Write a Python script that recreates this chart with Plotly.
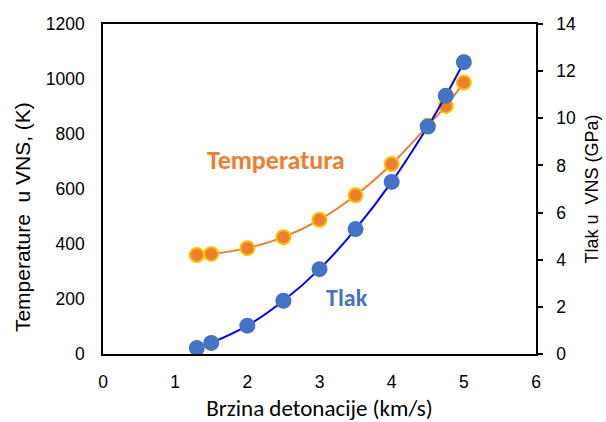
import plotly.graph_objects as go

# Detonation velocity (km/s)
velocity = [1.3, 1.5, 2.0, 2.5, 3.0, 3.5, 4.0, 4.5, 4.75, 5.0]
# Temperature in VNS (K)
temperature = [360, 364, 385, 425, 488, 577, 691, 830, 902, 987]
# Pressure in VNS (GPa)
pressure = [0.25, 0.47, 1.2, 2.26, 3.6, 5.3, 7.3, 9.65, 10.96, 12.38]

ARIAL = "Liberation Sans, Arial, sans-serif"
CALIBRI = "Carlito, Lato, Open Sans, sans-serif"

fig = go.Figure()

fig.add_trace(go.Scatter(
    x=velocity, y=temperature,
    mode="lines+markers",
    name="Temperatura",
    line=dict(color="#ED7D31", width=2, shape="spline"),
    marker=dict(size=14, color="#ED7D31", line=dict(color="#FFC000", width=2)),
    yaxis="y",
))

fig.add_trace(go.Scatter(
    x=velocity, y=pressure,
    mode="lines+markers",
    name="Tlak",
    line=dict(color="#0000FF", width=2, shape="spline"),
    marker=dict(size=16, color="#4472C4"),
    yaxis="y2",
))

fig.add_annotation(x=2.4, y=706, xref="x", yref="y", text="<b>Temperatura</b>",
                   showarrow=False, font=dict(family=CALIBRI, size=26, color="#ED7D31"))
fig.add_annotation(x=3.38, y=205, xref="x", yref="y", text="<b>Tlak</b>",
                   showarrow=False, font=dict(family=CALIBRI, size=24, color="#4472C4"))

# left axis title sits lower than the plot centre in the original, so place it by hand
fig.add_annotation(x=-0.187, y=0.415, xref="paper", yref="paper",
                   text="Temperature  u VNS, (K)", textangle=-90,
                   xanchor="center", yanchor="middle", showarrow=False,
                   font=dict(family=ARIAL, size=21, color="black"))

fig.update_layout(
    width=606, height=422,
    margin=dict(l=103, r=70, t=24, b=68),
    plot_bgcolor="white", paper_bgcolor="white",
    showlegend=False,
    xaxis=dict(
        range=[0, 6], dtick=1,
        showgrid=False, zeroline=False, automargin=False,
        showline=True, linecolor="black", linewidth=1.5, mirror=True,
        ticks="", ticklabelstandoff=11,
        tickfont=dict(family=ARIAL, size=17.5, color="black"),
        title=dict(text="Brzina detonacije (km/s)", standoff=12,
                   font=dict(family=CALIBRI, size=23, color="black")),
    ),
    yaxis=dict(
        range=[0, 1200], dtick=200,
        showgrid=False, zeroline=False, automargin=False,
        showline=True, linecolor="black", linewidth=1.5,
        ticks="", ticklabelstandoff=13,
        tickfont=dict(family=ARIAL, size=17.5, color="black"),
    ),
    yaxis2=dict(
        range=[0, 14], dtick=2,
        overlaying="y", side="right",
        showgrid=False, zeroline=False, automargin=False,
        showline=True, linecolor="black", linewidth=1.5,
        ticks="outside", ticklen=5, tickcolor="black", tickwidth=1.5,
        ticklabelstandoff=10,
        tickfont=dict(family=ARIAL, size=17.5, color="black"),
        title=dict(text="Tlak u  VNS (GPa)", standoff=10,
                   font=dict(family=ARIAL, size=18, color="black")),
    ),
)

# the page's default body margin shifts the figure; drop it
fig.write_html("out.html", config={"displayModeBar": False},
               post_script="document.body.style.margin='0';")
